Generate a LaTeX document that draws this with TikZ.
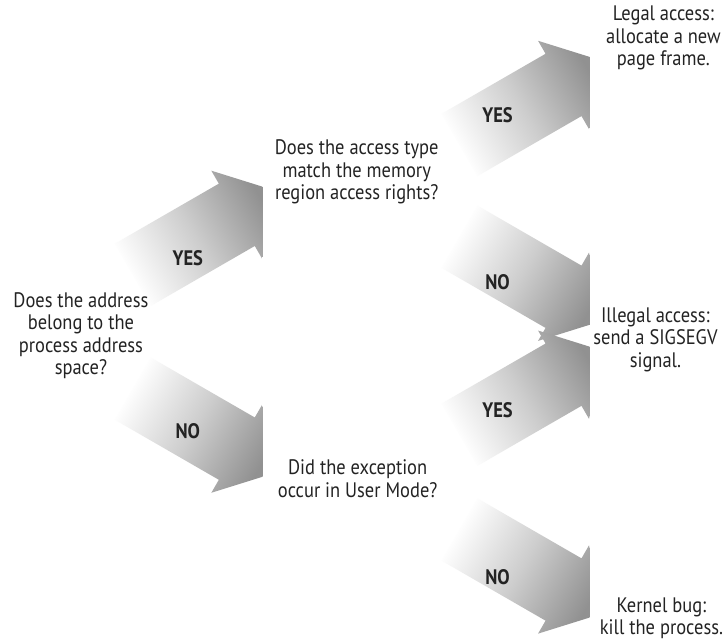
\documentclass[tikz,border=0pt]{standalone}
\usepackage{fontspec}
\setmainfont{PT Sans}[FakeStretch=0.88]
\usetikzlibrary{calc}
\definecolor{ink}{RGB}{35,35,35}
\definecolor{headgray}{RGB}{145,145,145}
\definecolor{midgray}{RGB}{205,205,205}
\tikzset{
  question/.style={align=center,font=\fontsize{21}{22.5}\selectfont,text=ink,inner sep=0pt},
  answer/.style={font=\fontsize{21}{21}\selectfont\bfseries,text=ink,inner sep=0pt},
  bigarrow/.style={shading=axis,top color=headgray,bottom color=white,middle color=midgray,shading angle=#1},
}
% #1 tail, #2 head, #3 cut at x, #4 shading angle
\newcommand{\branch}[4]{%
  \begin{scope}
    \clip (0,0) rectangle (#3,641);
    \shade[bigarrow=#4] ($(#1)!36pt!90:(#2)$) -- ($(#2)!36pt!-90:(#1)$)
      -- ($(#2)!51pt!-90:(#1)$) -- ($(#2)!-47pt!(#1)$) -- ($(#2)!51pt!90:(#1)$)
      -- ($(#2)!36pt!90:(#1)$) -- ($(#1)!36pt!-90:(#2)$) -- cycle;
  \end{scope}
}

\begin{document}
\begin{tikzpicture}[x=1pt,y=-1pt]
\fill[white] (0,0) rectangle (723,641);
% branch ends
\coordinate (a1) at (133,275); \coordinate (a2) at (237,215);
\coordinate (b1) at (133,389); \coordinate (b2) at (237,449);
\coordinate (c1) at (460,145); \coordinate (c2) at (564,85);
\coordinate (d1) at (460,237); \coordinate (d2) at (564,297);
\coordinate (e1) at (460,435); \coordinate (e2) at (564,375);
\coordinate (f1) at (460,530); \coordinate (f2) at (564,590);
% arrows
\branch{a1}{a2}{263}{-60}
\branch{b1}{b2}{263}{-120}
\branch{c1}{c2}{590}{-60}
\branch{d1}{d2}{590}{-120}
\branch{e1}{e2}{590}{-60}
\branch{f1}{f2}{590}{-120}
% answers on the arrows
\node[answer] (yesA) at (188,258) {YES};
\node[answer] (noB)  at (188,432) {NO};
\node[answer] (yesC) at (498,115) {YES};
\node[answer] (noD)  at (498,282) {NO};
\node[answer] (yesE) at (498,410) {YES};
\node[answer] (noF)  at (498,578) {NO};
% questions and outcomes
\node[question] (q1) at (81,336)  {Does the address\\belong to the\\process address\\space?};
\node[question] (q2) at (357,172) {Does the access type\\match the memory\\region access rights?};
\node[question] (q3) at (358,479) {Did the exception\\occur in User Mode?};
\node[question] (r1) at (664,38)  {Legal access:\\allocate a new\\page frame.};
\node[question] (r2) at (656,340) {Illegal access:\\send a SIGSEGV\\signal.};
\node[question] (r3) at (662,619) {Kernel bug:\\kill the process.};
\end{tikzpicture}
\end{document}
